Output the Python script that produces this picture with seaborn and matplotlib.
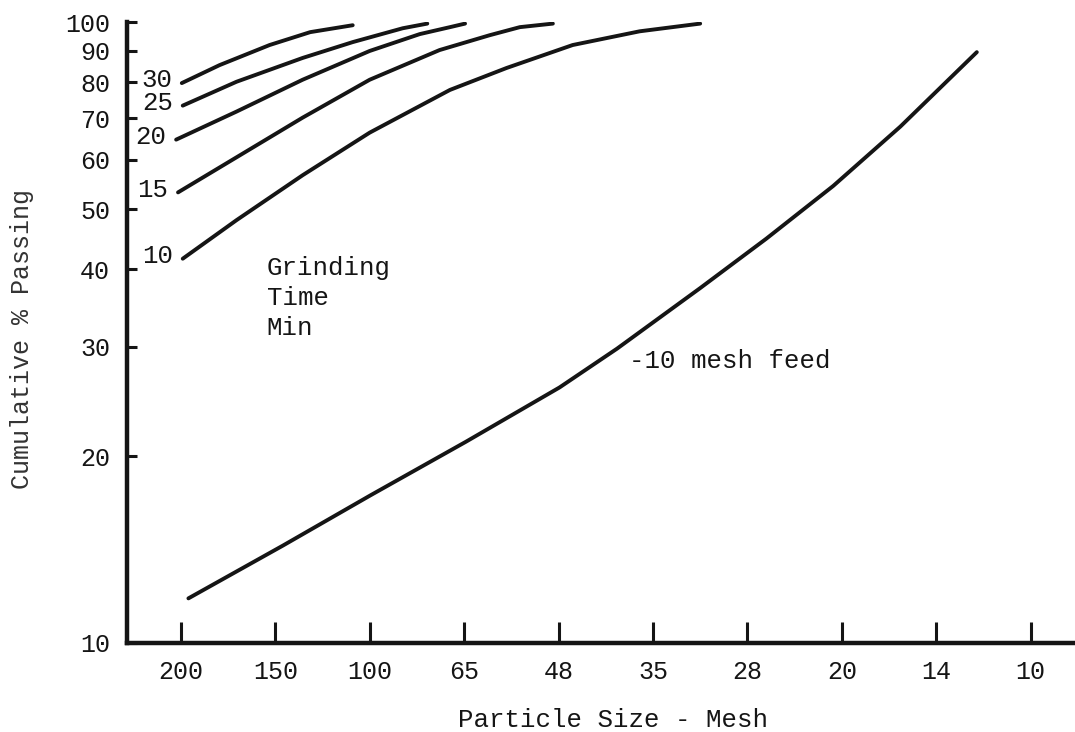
import matplotlib
matplotlib.use("Agg")
import matplotlib.pyplot as plt
import seaborn as sns
import pandas as pd

# --- Data ---
MESH_LABELS = ["200", "150", "100", "65", "48", "35", "28", "20", "14", "10"]
Y_TICKS = [10, 20, 30, 40, 50, 60, 70, 80, 90, 100]

# positions are measured along the mesh axis (0 = 200 mesh, 9 = 10 mesh)
FEED_POS = [0.08, 1.08, 2.01, 3.02, 4.01, 4.62, 5.50, 6.20, 6.91, 7.62, 8.43]
FEED_PCT = [11.8, 14.35, 17.3, 21.1, 25.8, 29.8, 37.3, 44.8, 54.5, 67.9, 89.5]

T10_POS = [0.02, 0.59, 1.29, 2.00, 2.85, 3.45, 4.15, 4.86, 5.50]
T10_PCT = [41.6, 48.0, 56.7, 66.4, 77.8, 84.4, 91.9, 96.7, 99.5]

T15_POS = [-0.03, 0.59, 1.29, 2.00, 2.74, 3.27, 3.59, 3.94]
T15_PCT = [53.2, 60.6, 70.2, 80.8, 90.2, 95.3, 98.2, 99.5]

T20_POS = [-0.05, 0.59, 1.29, 2.00, 2.53, 2.85, 3.01]
T20_PCT = [64.7, 71.8, 80.8, 89.9, 95.7, 98.2, 99.5]

T25_POS = [0.02, 0.59, 1.29, 1.82, 2.35, 2.61]
T25_PCT = [73.4, 80.2, 87.6, 92.9, 97.8, 99.5]

T30_POS = [0.01, 0.41, 0.94, 1.37, 1.82]
T30_PCT = [79.8, 85.3, 91.9, 96.4, 98.9]

GRIND_CURVES = {
    "10": (T10_POS, T10_PCT),
    "15": (T15_POS, T15_PCT),
    "20": (T20_POS, T20_PCT),
    "25": (T25_POS, T25_PCT),
    "30": (T30_POS, T30_PCT),
}

INK = "#151515"
FONT = ["Liberation Mono", "DejaVu Sans Mono"]


def main():
    sns.set_style("ticks")
    plt.rcParams["font.family"] = FONT

    fig = plt.figure(figsize=(10.75, 7.32), dpi=100)
    ax = fig.add_axes([0.118, 0.1216, 0.882, 0.848])

    # feed curve
    feed = pd.DataFrame({"pos": FEED_POS, "pct": FEED_PCT})
    sns.lineplot(data=feed, x="pos", y="pct", ax=ax, color=INK, lw=2.8,
                 sort=False, estimator=None)

    # grinding-time curves, labelled at their left end
    for name, (pos, pct) in GRIND_CURVES.items():
        df = pd.DataFrame({"pos": pos, "pct": pct})
        sns.lineplot(data=df, x="pos", y="pct", ax=ax, color=INK, lw=2.8,
                     sort=False, estimator=None)
        ax.annotate(name, (pos[0], pct[0]), xytext=(-7, 2),
                    textcoords="offset points", ha="right", va="center",
                    fontsize=18.5, color=INK)

    ax.text(0.91, 42.0, "Grinding\nTime\nMin", ha="left", va="top",
            fontsize=18.5, color=INK, linespacing=1.3)
    ax.text(4.75, 28.5, "-10 mesh feed", ha="left", va="center",
            fontsize=18.5, color=INK)

    ax.set_yscale("log")
    ax.set_ylim(10, 100)
    ax.set_xlim(-0.572, 9.47)

    ax.set_xticks(range(len(MESH_LABELS)))
    ax.set_xticklabels(MESH_LABELS)
    ax.set_yticks(Y_TICKS)
    ax.set_yticklabels([str(v) for v in Y_TICKS])
    ax.minorticks_off()

    ax.tick_params(axis="x", direction="in", length=15, width=2.2,
                   pad=12, labelsize=18, colors=INK)
    ax.tick_params(axis="y", direction="in", length=7, width=2.2,
                   pad=12, labelsize=18, colors=INK)

    sns.despine(ax=ax)
    for side in ["left", "bottom"]:
        ax.spines[side].set_linewidth(3.2)
        ax.spines[side].set_color(INK)

    ax.set_xlabel("Particle Size - Mesh", fontsize=18.5, color=INK)
    ax.set_ylabel("Cumulative % Passing", fontsize=18, color="#333333")
    ax.xaxis.set_label_coords(0.513, -0.105)
    ax.yaxis.set_label_coords(-0.098, 0.49)

    fig.savefig("out.png", dpi=100)
    plt.close(fig)


if __name__ == "__main__":
    main()
